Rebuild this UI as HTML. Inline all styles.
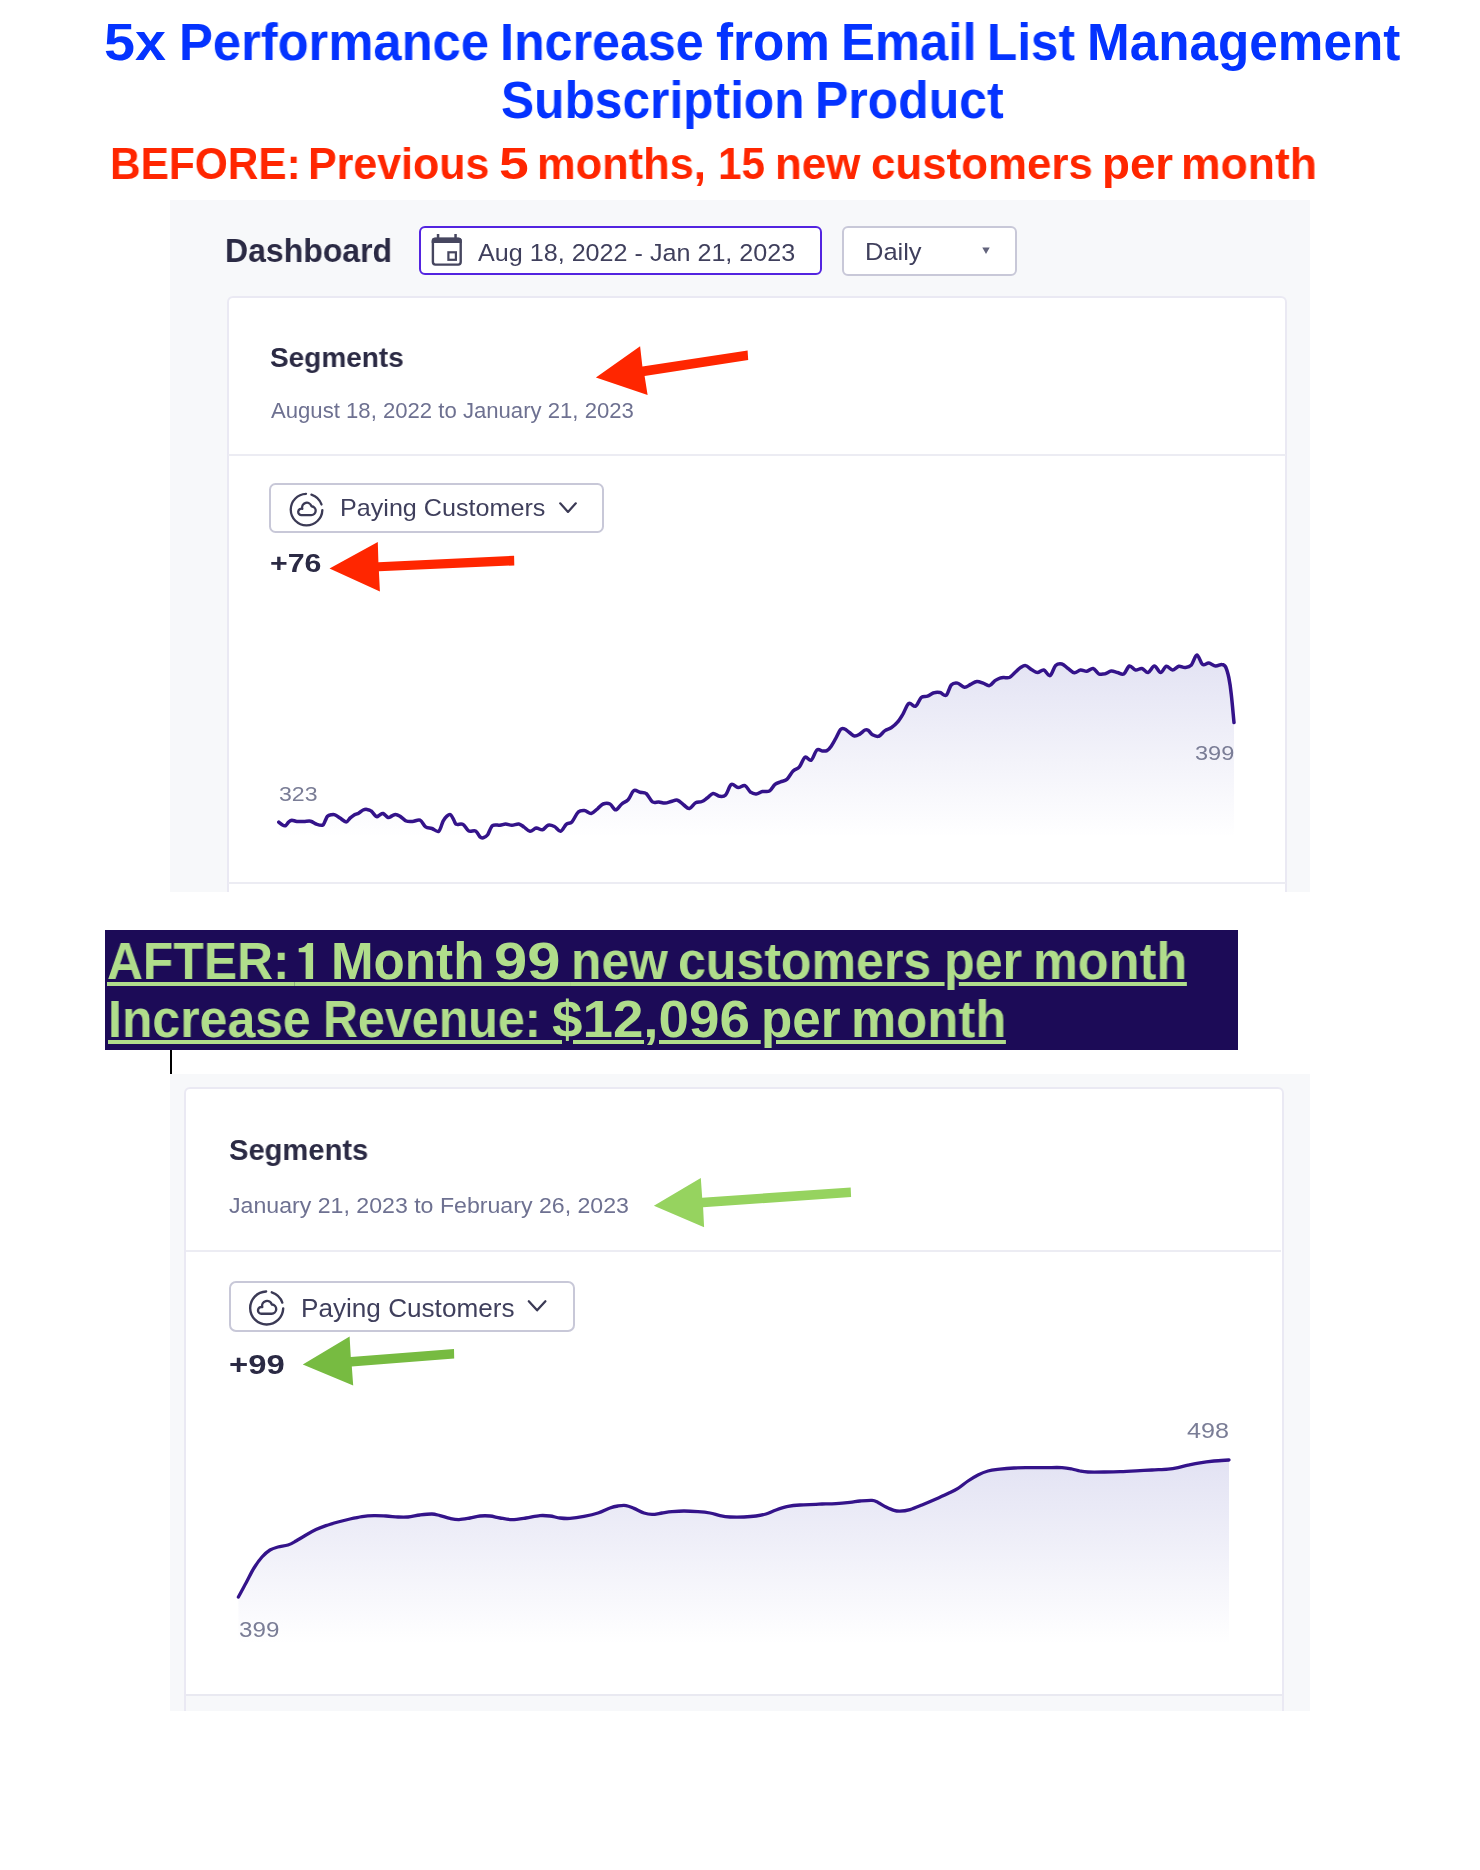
<!DOCTYPE html>
<html><head><meta charset="utf-8"><title>Case study</title>
<style>
html,body{margin:0;padding:0;background:#fff;}
body{width:1480px;height:1870px;position:relative;overflow:hidden;font-family:"Liberation Sans",sans-serif;}
.abs{position:absolute;white-space:nowrap;line-height:1;transform-origin:0 0;will-change:transform;}
.box{position:absolute;box-sizing:border-box;}
svg{position:absolute;left:0;top:0;}
</style></head><body>

<div class="box" style="left:170px;top:200px;width:1140px;height:692px;background:#f7f8fa;"></div>
<div class="box" style="left:227px;top:296.3px;width:1060px;height:595.7px;overflow:hidden;"><div class="box" style="left:0;top:0;width:1060px;height:700px;background:#fff;border:2px solid #eae9f3;border-radius:6px;"></div></div>
<div class="box" style="left:228px;top:454px;width:1058px;height:2px;background:#ececf3;"></div>
<div class="box" style="left:228px;top:881.5px;width:1058px;height:2px;background:#ececf3;"></div>
<div class="box" style="left:419px;top:226px;width:403px;height:49px;background:#fff;border:2px solid #5324e0;border-radius:6px;"></div>
<div class="box" style="left:842px;top:226px;width:175px;height:49.5px;background:#fff;border:2px solid #c8c8d8;border-radius:6px;"></div>
<div class="box" style="left:269px;top:483px;width:335px;height:49.5px;background:#fff;border:2px solid #c8c8d8;border-radius:6.5px;"></div>
<div class="box" style="left:105px;top:930px;width:1133px;height:119.5px;background:#1c0b57;"></div>
<div class="box" style="left:170.2px;top:1049.5px;width:1.8px;height:24.4px;background:#000;"></div>
<div class="box" style="left:170px;top:1074px;width:1140px;height:636.5px;background:#f7f8fa;"></div>
<div class="box" style="left:184px;top:1087px;width:1100px;height:623.5px;overflow:hidden;"><div class="box" style="left:0;top:0;width:1100px;height:700px;background:#fff;border:2px solid #eae9f3;border-radius:6px;"></div><div class="box" style="left:2px;top:606.5px;width:1096px;height:2px;background:#e9e9f1;"></div><div class="box" style="left:2px;top:608.5px;width:1096px;height:20px;background:#f7f8fa;"></div></div>
<div class="box" style="left:186px;top:1249.5px;width:1095px;height:2px;background:#ececf3;"></div>
<div class="box" style="left:229px;top:1281px;width:346px;height:51px;background:#fff;border:2px solid #c8c8d8;border-radius:7px;"></div>
<svg width="1480" height="1870" viewBox="0 0 1480 1870"><defs><linearGradient id="g1" gradientUnits="userSpaceOnUse" x1="0" y1="655" x2="0" y2="838"><stop offset="0" stop-color="#3232aa" stop-opacity="0.14"/><stop offset="1" stop-color="#3232aa" stop-opacity="0"/></linearGradient><linearGradient id="g2" gradientUnits="userSpaceOnUse" x1="0" y1="1460" x2="0" y2="1645"><stop offset="0" stop-color="#3232aa" stop-opacity="0.14"/><stop offset="1" stop-color="#3232aa" stop-opacity="0"/></linearGradient></defs><path d="M278.8 822.2C279.4 822.7 281.4 824.4 282.5 825.0C283.6 825.6 284.6 826.1 285.6 825.6C286.6 825.1 287.7 822.8 288.8 821.9C289.8 821.0 290.5 820.3 291.9 820.2C293.3 820.2 294.9 821.3 296.9 821.5C298.9 821.7 301.5 821.5 303.8 821.5C306.0 821.5 308.5 820.8 310.6 821.2C312.7 821.7 314.3 823.3 316.2 824.0C318.2 824.7 321.0 825.7 322.5 825.2C324.0 824.8 324.2 822.8 325.0 821.2C325.8 819.8 326.5 817.3 327.5 816.2C328.5 815.2 330.0 815.0 331.2 814.8C332.5 814.5 333.5 814.2 335.0 814.8C336.5 815.3 338.1 816.9 340.0 818.1C341.9 819.3 344.6 821.9 346.2 821.9C347.9 821.9 348.8 819.2 350.0 818.1C351.2 817.0 352.3 816.1 353.8 815.2C355.2 814.4 357.2 814.0 358.8 813.1C360.3 812.2 361.7 810.6 363.1 810.0C364.5 809.4 365.5 809.2 366.9 809.4C368.3 809.6 369.7 809.8 371.2 811.0C372.8 812.2 374.9 815.8 376.2 816.5C377.6 817.2 378.3 815.8 379.4 815.2C380.5 814.8 381.7 813.1 383.1 813.5C384.6 813.9 386.6 817.1 388.1 817.5C389.6 817.9 390.6 816.5 391.9 816.0C393.1 815.5 394.2 814.4 395.6 814.4C397.0 814.4 398.2 815.1 400.0 816.2C401.8 817.4 404.2 820.1 406.2 821.0C408.3 821.9 410.2 821.6 412.5 821.5C414.8 821.4 417.8 819.4 420.0 820.2C422.2 821.1 423.6 825.5 425.6 826.9C427.6 828.3 429.7 827.8 431.9 828.5C434.1 829.2 436.9 832.5 438.8 831.2C440.6 830.0 441.7 823.8 443.1 821.2C444.5 818.8 445.6 817.3 446.9 816.2C448.1 815.2 449.5 814.1 450.6 814.8C451.7 815.4 452.9 818.5 453.8 820.0C454.6 821.5 455.0 823.0 455.6 823.8C456.2 824.5 456.2 824.3 457.5 824.4C458.8 824.5 461.2 823.3 463.1 824.4C465.0 825.5 466.7 829.9 468.8 831.0C470.8 832.1 473.7 830.0 475.6 831.0C477.5 832.0 478.8 835.8 480.0 836.9C481.2 838.0 481.9 838.1 483.1 837.8C484.4 837.4 485.9 837.0 487.5 835.0C489.1 833.0 490.4 827.2 492.5 825.6C494.6 824.0 497.8 825.5 500.0 825.2C502.2 825.0 503.6 824.0 505.6 824.0C507.6 824.0 509.7 825.2 511.9 825.2C514.1 825.2 516.8 823.7 518.8 824.0C520.7 824.3 521.9 825.7 523.8 826.9C525.6 828.1 527.9 831.0 530.0 831.2C532.1 831.5 534.2 828.4 536.2 828.1C538.3 827.9 540.5 830.2 542.5 829.8C544.5 829.3 546.1 825.8 548.1 825.2C550.1 824.7 552.3 825.5 554.4 826.5C556.5 827.5 558.6 831.6 560.6 831.2C562.6 830.9 564.4 826.0 566.2 824.4C568.1 822.8 569.9 823.9 571.9 821.9C573.9 819.9 576.0 814.1 578.1 812.2C580.2 810.4 582.2 810.4 584.4 810.6C586.6 810.8 589.1 813.8 591.2 813.5C593.4 813.2 595.5 810.3 597.5 808.8C599.5 807.2 601.0 804.8 603.1 804.0C605.2 803.2 607.9 803.0 610.0 804.0C612.1 805.0 613.6 809.8 615.6 809.8C617.6 809.7 619.8 805.4 621.9 803.8C624.0 802.1 626.1 801.9 628.1 799.8C630.1 797.6 631.8 791.9 633.8 790.6C635.7 789.4 637.9 791.8 640.0 792.2C642.1 792.7 644.2 791.9 646.2 793.5C648.3 795.1 650.4 800.5 652.5 801.9C654.6 803.3 656.7 801.7 658.8 801.9C660.8 802.1 662.9 803.2 665.0 803.1C667.1 803.0 669.2 802.0 671.2 801.5C673.3 801.0 675.4 799.7 677.5 800.2C679.6 800.8 681.8 803.6 683.8 805.0C685.7 806.4 687.4 808.9 689.4 808.5C691.4 808.1 693.5 803.9 695.6 802.8C697.7 801.6 699.9 802.3 701.9 801.5C703.9 800.7 705.6 799.1 707.5 797.8C709.4 796.4 711.1 793.8 713.1 793.5C715.1 793.2 717.3 796.0 719.4 796.2C721.5 796.5 723.6 797.0 725.6 795.0C727.6 793.0 729.2 785.6 731.2 784.4C733.3 783.1 735.8 787.3 738.1 787.5C740.4 787.7 742.9 784.8 745.0 785.6C747.1 786.4 748.7 790.9 750.6 792.2C752.5 793.6 754.3 794.1 756.2 794.0C758.2 793.9 760.3 792.0 762.5 791.5C764.7 791.0 767.3 792.2 769.4 791.0C771.5 789.8 773.1 785.9 775.0 784.4C776.9 782.9 778.6 782.7 780.6 781.9C782.6 781.1 784.8 781.2 786.9 779.4C789.0 777.6 791.0 773.1 793.1 771.0C795.2 768.9 797.4 769.2 799.4 766.9C801.4 764.6 803.0 758.4 805.0 757.2C807.0 756.1 809.3 761.5 811.2 760.2C813.2 759.0 815.0 751.5 816.9 750.0C818.8 748.5 820.8 750.9 822.5 751.0C824.2 751.1 825.4 751.4 826.9 750.6C828.4 749.8 829.7 748.4 831.2 746.2C832.8 744.1 834.7 740.3 836.2 737.5C837.8 734.7 839.2 730.9 840.6 729.4C842.0 727.9 842.9 728.2 844.4 728.8C845.9 729.3 847.7 731.3 849.4 732.5C851.1 733.7 852.7 735.7 854.4 736.0C856.1 736.3 857.6 735.4 859.4 734.4C861.2 733.4 863.5 730.7 865.0 730.0C866.5 729.3 866.9 729.5 868.1 730.2C869.4 731.0 870.7 733.8 872.5 734.8C874.3 735.8 876.7 736.9 878.8 736.2C880.8 735.6 882.9 732.0 885.0 730.6C887.1 729.2 889.2 729.1 891.2 727.8C893.3 726.4 895.5 724.6 897.5 722.2C899.5 719.9 901.2 716.9 903.1 713.8C905.0 710.6 906.7 704.8 908.8 703.5C910.8 702.2 913.5 707.2 915.6 706.2C917.7 705.2 919.3 699.2 921.2 697.5C923.2 695.8 925.4 697.0 927.5 696.2C929.6 695.5 931.7 693.4 933.8 692.8C935.8 692.1 937.9 692.1 940.0 692.5C942.1 692.9 944.4 696.5 946.2 695.2C948.1 694.0 949.4 687.0 951.2 685.0C953.1 683.0 955.3 682.7 957.5 683.1C959.7 683.5 962.2 687.0 964.4 687.2C966.6 687.5 968.5 685.4 970.6 684.4C972.7 683.4 974.8 681.7 976.9 681.5C979.0 681.3 981.0 682.4 983.1 683.1C985.2 683.8 987.4 686.0 989.4 685.6C991.4 685.2 993.2 681.9 995.0 680.6C996.8 679.4 998.5 678.6 1000.0 678.1C1001.5 677.6 1002.2 677.6 1003.8 677.5C1005.3 677.4 1007.5 678.3 1009.4 677.5C1011.3 676.7 1013.1 674.2 1015.0 672.5C1016.9 670.8 1018.8 668.6 1020.6 667.5C1022.4 666.4 1023.7 665.2 1025.6 665.6C1027.5 666.0 1029.9 668.6 1031.9 669.8C1033.9 670.9 1035.5 672.5 1037.5 672.5C1039.5 672.5 1041.7 669.5 1043.8 670.0C1045.8 670.5 1048.0 676.3 1050.0 675.6C1052.0 674.9 1053.6 667.5 1055.6 665.6C1057.6 663.7 1059.8 663.5 1061.9 664.0C1064.0 664.5 1066.0 667.0 1068.1 668.5C1070.2 670.0 1072.3 672.5 1074.4 672.8C1076.5 673.0 1078.5 670.2 1080.6 670.0C1082.7 669.8 1084.8 671.5 1086.9 671.2C1089.0 671.0 1091.1 668.1 1093.1 668.5C1095.1 668.9 1096.8 672.9 1098.8 673.8C1100.7 674.6 1102.9 674.2 1105.0 673.8C1107.1 673.3 1109.2 671.2 1111.2 671.0C1113.3 670.8 1115.4 672.0 1117.5 672.5C1119.6 673.0 1121.8 675.1 1123.8 674.0C1125.7 672.9 1127.4 666.7 1129.4 666.0C1131.4 665.3 1133.5 669.6 1135.6 670.0C1137.7 670.4 1139.8 668.1 1141.9 668.5C1144.0 668.9 1146.0 672.9 1148.1 672.5C1150.2 672.1 1152.3 666.0 1154.4 666.0C1156.5 666.0 1158.6 672.5 1160.6 672.5C1162.6 672.5 1164.3 666.7 1166.2 666.2C1168.2 665.8 1170.4 670.0 1172.5 670.0C1174.6 670.0 1176.7 666.7 1178.8 666.2C1180.8 665.8 1182.9 667.7 1185.0 667.5C1187.1 667.3 1189.3 667.3 1191.2 665.2C1193.2 663.2 1195.0 655.1 1196.9 655.0C1198.8 654.9 1200.5 663.0 1202.5 664.4C1204.5 665.8 1206.6 662.8 1208.8 663.1C1210.9 663.4 1213.4 665.8 1215.6 666.0C1217.8 666.2 1220.2 664.2 1221.9 664.4C1223.6 664.5 1224.5 664.7 1225.6 666.9C1226.7 669.1 1227.8 673.0 1228.8 677.5C1229.7 682.0 1230.4 686.2 1231.2 693.8C1232.1 701.2 1233.5 717.7 1234.0 722.5L1234 838L278.8 838Z" fill="url(#g1)"/><path d="M278.8 822.2C279.4 822.7 281.4 824.4 282.5 825.0C283.6 825.6 284.6 826.1 285.6 825.6C286.6 825.1 287.7 822.8 288.8 821.9C289.8 821.0 290.5 820.3 291.9 820.2C293.3 820.2 294.9 821.3 296.9 821.5C298.9 821.7 301.5 821.5 303.8 821.5C306.0 821.5 308.5 820.8 310.6 821.2C312.7 821.7 314.3 823.3 316.2 824.0C318.2 824.7 321.0 825.7 322.5 825.2C324.0 824.8 324.2 822.8 325.0 821.2C325.8 819.8 326.5 817.3 327.5 816.2C328.5 815.2 330.0 815.0 331.2 814.8C332.5 814.5 333.5 814.2 335.0 814.8C336.5 815.3 338.1 816.9 340.0 818.1C341.9 819.3 344.6 821.9 346.2 821.9C347.9 821.9 348.8 819.2 350.0 818.1C351.2 817.0 352.3 816.1 353.8 815.2C355.2 814.4 357.2 814.0 358.8 813.1C360.3 812.2 361.7 810.6 363.1 810.0C364.5 809.4 365.5 809.2 366.9 809.4C368.3 809.6 369.7 809.8 371.2 811.0C372.8 812.2 374.9 815.8 376.2 816.5C377.6 817.2 378.3 815.8 379.4 815.2C380.5 814.8 381.7 813.1 383.1 813.5C384.6 813.9 386.6 817.1 388.1 817.5C389.6 817.9 390.6 816.5 391.9 816.0C393.1 815.5 394.2 814.4 395.6 814.4C397.0 814.4 398.2 815.1 400.0 816.2C401.8 817.4 404.2 820.1 406.2 821.0C408.3 821.9 410.2 821.6 412.5 821.5C414.8 821.4 417.8 819.4 420.0 820.2C422.2 821.1 423.6 825.5 425.6 826.9C427.6 828.3 429.7 827.8 431.9 828.5C434.1 829.2 436.9 832.5 438.8 831.2C440.6 830.0 441.7 823.8 443.1 821.2C444.5 818.8 445.6 817.3 446.9 816.2C448.1 815.2 449.5 814.1 450.6 814.8C451.7 815.4 452.9 818.5 453.8 820.0C454.6 821.5 455.0 823.0 455.6 823.8C456.2 824.5 456.2 824.3 457.5 824.4C458.8 824.5 461.2 823.3 463.1 824.4C465.0 825.5 466.7 829.9 468.8 831.0C470.8 832.1 473.7 830.0 475.6 831.0C477.5 832.0 478.8 835.8 480.0 836.9C481.2 838.0 481.9 838.1 483.1 837.8C484.4 837.4 485.9 837.0 487.5 835.0C489.1 833.0 490.4 827.2 492.5 825.6C494.6 824.0 497.8 825.5 500.0 825.2C502.2 825.0 503.6 824.0 505.6 824.0C507.6 824.0 509.7 825.2 511.9 825.2C514.1 825.2 516.8 823.7 518.8 824.0C520.7 824.3 521.9 825.7 523.8 826.9C525.6 828.1 527.9 831.0 530.0 831.2C532.1 831.5 534.2 828.4 536.2 828.1C538.3 827.9 540.5 830.2 542.5 829.8C544.5 829.3 546.1 825.8 548.1 825.2C550.1 824.7 552.3 825.5 554.4 826.5C556.5 827.5 558.6 831.6 560.6 831.2C562.6 830.9 564.4 826.0 566.2 824.4C568.1 822.8 569.9 823.9 571.9 821.9C573.9 819.9 576.0 814.1 578.1 812.2C580.2 810.4 582.2 810.4 584.4 810.6C586.6 810.8 589.1 813.8 591.2 813.5C593.4 813.2 595.5 810.3 597.5 808.8C599.5 807.2 601.0 804.8 603.1 804.0C605.2 803.2 607.9 803.0 610.0 804.0C612.1 805.0 613.6 809.8 615.6 809.8C617.6 809.7 619.8 805.4 621.9 803.8C624.0 802.1 626.1 801.9 628.1 799.8C630.1 797.6 631.8 791.9 633.8 790.6C635.7 789.4 637.9 791.8 640.0 792.2C642.1 792.7 644.2 791.9 646.2 793.5C648.3 795.1 650.4 800.5 652.5 801.9C654.6 803.3 656.7 801.7 658.8 801.9C660.8 802.1 662.9 803.2 665.0 803.1C667.1 803.0 669.2 802.0 671.2 801.5C673.3 801.0 675.4 799.7 677.5 800.2C679.6 800.8 681.8 803.6 683.8 805.0C685.7 806.4 687.4 808.9 689.4 808.5C691.4 808.1 693.5 803.9 695.6 802.8C697.7 801.6 699.9 802.3 701.9 801.5C703.9 800.7 705.6 799.1 707.5 797.8C709.4 796.4 711.1 793.8 713.1 793.5C715.1 793.2 717.3 796.0 719.4 796.2C721.5 796.5 723.6 797.0 725.6 795.0C727.6 793.0 729.2 785.6 731.2 784.4C733.3 783.1 735.8 787.3 738.1 787.5C740.4 787.7 742.9 784.8 745.0 785.6C747.1 786.4 748.7 790.9 750.6 792.2C752.5 793.6 754.3 794.1 756.2 794.0C758.2 793.9 760.3 792.0 762.5 791.5C764.7 791.0 767.3 792.2 769.4 791.0C771.5 789.8 773.1 785.9 775.0 784.4C776.9 782.9 778.6 782.7 780.6 781.9C782.6 781.1 784.8 781.2 786.9 779.4C789.0 777.6 791.0 773.1 793.1 771.0C795.2 768.9 797.4 769.2 799.4 766.9C801.4 764.6 803.0 758.4 805.0 757.2C807.0 756.1 809.3 761.5 811.2 760.2C813.2 759.0 815.0 751.5 816.9 750.0C818.8 748.5 820.8 750.9 822.5 751.0C824.2 751.1 825.4 751.4 826.9 750.6C828.4 749.8 829.7 748.4 831.2 746.2C832.8 744.1 834.7 740.3 836.2 737.5C837.8 734.7 839.2 730.9 840.6 729.4C842.0 727.9 842.9 728.2 844.4 728.8C845.9 729.3 847.7 731.3 849.4 732.5C851.1 733.7 852.7 735.7 854.4 736.0C856.1 736.3 857.6 735.4 859.4 734.4C861.2 733.4 863.5 730.7 865.0 730.0C866.5 729.3 866.9 729.5 868.1 730.2C869.4 731.0 870.7 733.8 872.5 734.8C874.3 735.8 876.7 736.9 878.8 736.2C880.8 735.6 882.9 732.0 885.0 730.6C887.1 729.2 889.2 729.1 891.2 727.8C893.3 726.4 895.5 724.6 897.5 722.2C899.5 719.9 901.2 716.9 903.1 713.8C905.0 710.6 906.7 704.8 908.8 703.5C910.8 702.2 913.5 707.2 915.6 706.2C917.7 705.2 919.3 699.2 921.2 697.5C923.2 695.8 925.4 697.0 927.5 696.2C929.6 695.5 931.7 693.4 933.8 692.8C935.8 692.1 937.9 692.1 940.0 692.5C942.1 692.9 944.4 696.5 946.2 695.2C948.1 694.0 949.4 687.0 951.2 685.0C953.1 683.0 955.3 682.7 957.5 683.1C959.7 683.5 962.2 687.0 964.4 687.2C966.6 687.5 968.5 685.4 970.6 684.4C972.7 683.4 974.8 681.7 976.9 681.5C979.0 681.3 981.0 682.4 983.1 683.1C985.2 683.8 987.4 686.0 989.4 685.6C991.4 685.2 993.2 681.9 995.0 680.6C996.8 679.4 998.5 678.6 1000.0 678.1C1001.5 677.6 1002.2 677.6 1003.8 677.5C1005.3 677.4 1007.5 678.3 1009.4 677.5C1011.3 676.7 1013.1 674.2 1015.0 672.5C1016.9 670.8 1018.8 668.6 1020.6 667.5C1022.4 666.4 1023.7 665.2 1025.6 665.6C1027.5 666.0 1029.9 668.6 1031.9 669.8C1033.9 670.9 1035.5 672.5 1037.5 672.5C1039.5 672.5 1041.7 669.5 1043.8 670.0C1045.8 670.5 1048.0 676.3 1050.0 675.6C1052.0 674.9 1053.6 667.5 1055.6 665.6C1057.6 663.7 1059.8 663.5 1061.9 664.0C1064.0 664.5 1066.0 667.0 1068.1 668.5C1070.2 670.0 1072.3 672.5 1074.4 672.8C1076.5 673.0 1078.5 670.2 1080.6 670.0C1082.7 669.8 1084.8 671.5 1086.9 671.2C1089.0 671.0 1091.1 668.1 1093.1 668.5C1095.1 668.9 1096.8 672.9 1098.8 673.8C1100.7 674.6 1102.9 674.2 1105.0 673.8C1107.1 673.3 1109.2 671.2 1111.2 671.0C1113.3 670.8 1115.4 672.0 1117.5 672.5C1119.6 673.0 1121.8 675.1 1123.8 674.0C1125.7 672.9 1127.4 666.7 1129.4 666.0C1131.4 665.3 1133.5 669.6 1135.6 670.0C1137.7 670.4 1139.8 668.1 1141.9 668.5C1144.0 668.9 1146.0 672.9 1148.1 672.5C1150.2 672.1 1152.3 666.0 1154.4 666.0C1156.5 666.0 1158.6 672.5 1160.6 672.5C1162.6 672.5 1164.3 666.7 1166.2 666.2C1168.2 665.8 1170.4 670.0 1172.5 670.0C1174.6 670.0 1176.7 666.7 1178.8 666.2C1180.8 665.8 1182.9 667.7 1185.0 667.5C1187.1 667.3 1189.3 667.3 1191.2 665.2C1193.2 663.2 1195.0 655.1 1196.9 655.0C1198.8 654.9 1200.5 663.0 1202.5 664.4C1204.5 665.8 1206.6 662.8 1208.8 663.1C1210.9 663.4 1213.4 665.8 1215.6 666.0C1217.8 666.2 1220.2 664.2 1221.9 664.4C1223.6 664.5 1224.5 664.7 1225.6 666.9C1226.7 669.1 1227.8 673.0 1228.8 677.5C1229.7 682.0 1230.4 686.2 1231.2 693.8C1232.1 701.2 1233.5 717.7 1234.0 722.5" fill="none" stroke="#34138a" stroke-width="3.5" stroke-linecap="round" stroke-linejoin="round"/><path d="M238.4 1597.0C239.7 1594.7 243.4 1587.8 246.0 1583.0C248.6 1578.2 251.3 1572.3 254.0 1568.0C256.7 1563.7 259.3 1560.0 262.0 1557.0C264.7 1554.0 267.3 1551.7 270.0 1550.0C272.7 1548.3 275.0 1547.8 278.0 1547.0C281.0 1546.2 285.0 1546.0 288.0 1545.0C291.0 1544.0 293.0 1542.7 296.0 1541.0C299.0 1539.3 302.7 1536.9 306.0 1535.0C309.3 1533.1 312.7 1531.2 316.0 1529.6C319.3 1528.0 322.3 1526.9 326.0 1525.6C329.7 1524.3 334.0 1523.1 338.0 1522.0C342.0 1520.9 346.0 1519.9 350.0 1519.0C354.0 1518.1 358.0 1517.2 362.0 1516.6C366.0 1516.0 370.0 1515.7 374.0 1515.6C378.0 1515.5 382.0 1515.8 386.0 1516.0C390.0 1516.2 394.3 1516.8 398.0 1517.0C401.7 1517.2 404.3 1517.3 408.0 1517.0C411.7 1516.7 416.0 1515.5 420.0 1515.0C424.0 1514.5 428.7 1513.9 432.0 1514.0C435.3 1514.1 437.0 1514.9 440.0 1515.6C443.0 1516.3 446.8 1517.7 450.0 1518.4C453.2 1519.1 455.7 1519.7 459.0 1519.6C462.3 1519.5 466.5 1518.6 470.0 1518.0C473.5 1517.4 476.7 1516.3 480.0 1516.0C483.3 1515.7 486.7 1515.7 490.0 1516.0C493.3 1516.3 496.3 1517.4 500.0 1518.0C503.7 1518.6 507.7 1519.6 512.0 1519.6C516.3 1519.6 521.3 1518.7 526.0 1518.0C530.7 1517.3 536.0 1515.9 540.0 1515.6C544.0 1515.3 546.7 1515.6 550.0 1516.0C553.3 1516.4 556.7 1517.6 560.0 1518.0C563.3 1518.4 566.0 1518.7 570.0 1518.4C574.0 1518.1 579.3 1517.3 584.0 1516.4C588.7 1515.5 593.7 1514.4 598.0 1513.0C602.3 1511.6 606.7 1509.2 610.0 1508.0C613.3 1506.8 615.3 1506.4 618.0 1506.0C620.7 1505.6 623.3 1505.2 626.0 1505.6C628.7 1506.0 631.0 1507.2 634.0 1508.4C637.0 1509.6 641.0 1512.0 644.0 1513.0C647.0 1514.0 649.0 1514.4 652.0 1514.4C655.0 1514.4 658.7 1513.5 662.0 1513.0C665.3 1512.5 668.3 1511.9 672.0 1511.6C675.7 1511.3 679.7 1511.0 684.0 1511.0C688.3 1511.0 693.7 1511.3 698.0 1511.6C702.3 1511.9 706.3 1512.3 710.0 1513.0C713.7 1513.7 716.7 1514.9 720.0 1515.6C723.3 1516.3 726.0 1516.8 730.0 1517.0C734.0 1517.2 739.7 1517.2 744.0 1517.0C748.3 1516.8 752.3 1516.5 756.0 1516.0C759.7 1515.5 762.7 1515.0 766.0 1514.0C769.3 1513.0 772.3 1511.3 776.0 1510.0C779.7 1508.7 784.0 1507.2 788.0 1506.4C792.0 1505.6 795.3 1505.3 800.0 1505.0C804.7 1504.7 812.3 1504.6 816.0 1504.4C819.7 1504.2 818.7 1504.1 822.0 1504.0C825.3 1503.9 831.3 1503.9 836.0 1503.6C840.7 1503.3 846.0 1502.8 850.0 1502.4C854.0 1502.0 856.3 1501.3 860.0 1501.0C863.7 1500.7 869.0 1500.2 872.0 1500.4C875.0 1500.6 875.7 1501.3 878.0 1502.4C880.3 1503.5 883.3 1505.7 886.0 1507.0C888.7 1508.3 891.7 1509.7 894.0 1510.4C896.3 1511.1 897.3 1511.3 900.0 1511.2C902.7 1511.1 906.3 1510.6 910.0 1509.6C913.7 1508.6 917.7 1506.8 922.0 1505.0C926.3 1503.2 931.7 1500.9 936.0 1499.0C940.3 1497.1 944.3 1495.4 948.0 1493.6C951.7 1491.8 954.7 1490.5 958.0 1488.4C961.3 1486.3 964.7 1483.2 968.0 1481.0C971.3 1478.8 974.7 1476.7 978.0 1475.0C981.3 1473.3 984.3 1472.0 988.0 1471.0C991.7 1470.0 995.7 1469.7 1000.0 1469.2C1004.3 1468.7 1009.0 1468.3 1014.0 1468.0C1019.0 1467.7 1024.7 1467.7 1030.0 1467.6C1035.3 1467.5 1040.7 1467.6 1046.0 1467.6C1051.3 1467.6 1057.7 1467.4 1062.0 1467.6C1066.3 1467.8 1069.0 1468.4 1072.0 1469.0C1075.0 1469.6 1077.3 1470.5 1080.0 1471.0C1082.7 1471.5 1084.0 1471.8 1088.0 1472.0C1092.0 1472.2 1098.7 1472.1 1104.0 1472.0C1109.3 1471.9 1114.7 1471.8 1120.0 1471.6C1125.3 1471.4 1130.7 1471.1 1136.0 1470.8C1141.3 1470.5 1146.7 1470.3 1152.0 1470.0C1157.3 1469.7 1163.7 1469.6 1168.0 1469.2C1172.3 1468.8 1174.7 1468.3 1178.0 1467.6C1181.3 1466.9 1184.3 1466.0 1188.0 1465.2C1191.7 1464.4 1195.7 1463.5 1200.0 1462.8C1204.3 1462.1 1209.2 1461.5 1214.0 1461.0C1218.8 1460.5 1226.5 1460.2 1229.0 1460.0L1229 1645L238.4 1645Z" fill="url(#g2)"/><path d="M238.4 1597.0C239.7 1594.7 243.4 1587.8 246.0 1583.0C248.6 1578.2 251.3 1572.3 254.0 1568.0C256.7 1563.7 259.3 1560.0 262.0 1557.0C264.7 1554.0 267.3 1551.7 270.0 1550.0C272.7 1548.3 275.0 1547.8 278.0 1547.0C281.0 1546.2 285.0 1546.0 288.0 1545.0C291.0 1544.0 293.0 1542.7 296.0 1541.0C299.0 1539.3 302.7 1536.9 306.0 1535.0C309.3 1533.1 312.7 1531.2 316.0 1529.6C319.3 1528.0 322.3 1526.9 326.0 1525.6C329.7 1524.3 334.0 1523.1 338.0 1522.0C342.0 1520.9 346.0 1519.9 350.0 1519.0C354.0 1518.1 358.0 1517.2 362.0 1516.6C366.0 1516.0 370.0 1515.7 374.0 1515.6C378.0 1515.5 382.0 1515.8 386.0 1516.0C390.0 1516.2 394.3 1516.8 398.0 1517.0C401.7 1517.2 404.3 1517.3 408.0 1517.0C411.7 1516.7 416.0 1515.5 420.0 1515.0C424.0 1514.5 428.7 1513.9 432.0 1514.0C435.3 1514.1 437.0 1514.9 440.0 1515.6C443.0 1516.3 446.8 1517.7 450.0 1518.4C453.2 1519.1 455.7 1519.7 459.0 1519.6C462.3 1519.5 466.5 1518.6 470.0 1518.0C473.5 1517.4 476.7 1516.3 480.0 1516.0C483.3 1515.7 486.7 1515.7 490.0 1516.0C493.3 1516.3 496.3 1517.4 500.0 1518.0C503.7 1518.6 507.7 1519.6 512.0 1519.6C516.3 1519.6 521.3 1518.7 526.0 1518.0C530.7 1517.3 536.0 1515.9 540.0 1515.6C544.0 1515.3 546.7 1515.6 550.0 1516.0C553.3 1516.4 556.7 1517.6 560.0 1518.0C563.3 1518.4 566.0 1518.7 570.0 1518.4C574.0 1518.1 579.3 1517.3 584.0 1516.4C588.7 1515.5 593.7 1514.4 598.0 1513.0C602.3 1511.6 606.7 1509.2 610.0 1508.0C613.3 1506.8 615.3 1506.4 618.0 1506.0C620.7 1505.6 623.3 1505.2 626.0 1505.6C628.7 1506.0 631.0 1507.2 634.0 1508.4C637.0 1509.6 641.0 1512.0 644.0 1513.0C647.0 1514.0 649.0 1514.4 652.0 1514.4C655.0 1514.4 658.7 1513.5 662.0 1513.0C665.3 1512.5 668.3 1511.9 672.0 1511.6C675.7 1511.3 679.7 1511.0 684.0 1511.0C688.3 1511.0 693.7 1511.3 698.0 1511.6C702.3 1511.9 706.3 1512.3 710.0 1513.0C713.7 1513.7 716.7 1514.9 720.0 1515.6C723.3 1516.3 726.0 1516.8 730.0 1517.0C734.0 1517.2 739.7 1517.2 744.0 1517.0C748.3 1516.8 752.3 1516.5 756.0 1516.0C759.7 1515.5 762.7 1515.0 766.0 1514.0C769.3 1513.0 772.3 1511.3 776.0 1510.0C779.7 1508.7 784.0 1507.2 788.0 1506.4C792.0 1505.6 795.3 1505.3 800.0 1505.0C804.7 1504.7 812.3 1504.6 816.0 1504.4C819.7 1504.2 818.7 1504.1 822.0 1504.0C825.3 1503.9 831.3 1503.9 836.0 1503.6C840.7 1503.3 846.0 1502.8 850.0 1502.4C854.0 1502.0 856.3 1501.3 860.0 1501.0C863.7 1500.7 869.0 1500.2 872.0 1500.4C875.0 1500.6 875.7 1501.3 878.0 1502.4C880.3 1503.5 883.3 1505.7 886.0 1507.0C888.7 1508.3 891.7 1509.7 894.0 1510.4C896.3 1511.1 897.3 1511.3 900.0 1511.2C902.7 1511.1 906.3 1510.6 910.0 1509.6C913.7 1508.6 917.7 1506.8 922.0 1505.0C926.3 1503.2 931.7 1500.9 936.0 1499.0C940.3 1497.1 944.3 1495.4 948.0 1493.6C951.7 1491.8 954.7 1490.5 958.0 1488.4C961.3 1486.3 964.7 1483.2 968.0 1481.0C971.3 1478.8 974.7 1476.7 978.0 1475.0C981.3 1473.3 984.3 1472.0 988.0 1471.0C991.7 1470.0 995.7 1469.7 1000.0 1469.2C1004.3 1468.7 1009.0 1468.3 1014.0 1468.0C1019.0 1467.7 1024.7 1467.7 1030.0 1467.6C1035.3 1467.5 1040.7 1467.6 1046.0 1467.6C1051.3 1467.6 1057.7 1467.4 1062.0 1467.6C1066.3 1467.8 1069.0 1468.4 1072.0 1469.0C1075.0 1469.6 1077.3 1470.5 1080.0 1471.0C1082.7 1471.5 1084.0 1471.8 1088.0 1472.0C1092.0 1472.2 1098.7 1472.1 1104.0 1472.0C1109.3 1471.9 1114.7 1471.8 1120.0 1471.6C1125.3 1471.4 1130.7 1471.1 1136.0 1470.8C1141.3 1470.5 1146.7 1470.3 1152.0 1470.0C1157.3 1469.7 1163.7 1469.6 1168.0 1469.2C1172.3 1468.8 1174.7 1468.3 1178.0 1467.6C1181.3 1466.9 1184.3 1466.0 1188.0 1465.2C1191.7 1464.4 1195.7 1463.5 1200.0 1462.8C1204.3 1462.1 1209.2 1461.5 1214.0 1461.0C1218.8 1460.5 1226.5 1460.2 1229.0 1460.0" fill="none" stroke="#34138a" stroke-width="3.3" stroke-linecap="round" stroke-linejoin="round"/><polygon points="595.9,377.6 640.1,346.2 642.4,366.5 747.6,350.5 748.2,360.0 644.6,375.9 647.6,395.1" fill="#ff2600"/><polygon points="329.5,568.5 377.8,541.9 378.4,562.2 514.1,555.7 514.3,565.4 378.9,571.2 379.9,591.5" fill="#ff2600"/><polygon points="653.9,1205.8 700.8,1178.0 702.2,1197.8 850.7,1187.4 851.1,1196.9 703.1,1207.3 704.1,1227.2" fill="#96d35f"/><polygon points="302.8,1364.5 349.6,1336.6 350.8,1356.9 454.0,1349.1 454.2,1358.4 351.8,1366.6 353.2,1385.6" fill="#77bb41"/><path d="M313.1 942.9V979H305.6V952.2H298.7V948.2Q305.2 947.6 307.4 942.9Z" fill="#b0dd8b"/><g fill="none" stroke="#46465f" stroke-width="2.4"><rect x="432.9" y="238.8" width="27.8" height="25.8" rx="2.5"/></g><path d="M431.7 241a3.3 3.3 0 0 1 3.3 -3.3h23.5a3.3 3.3 0 0 1 3.3 3.3v2.1h-30.1z" fill="#46465f"/><rect x="436.8" y="234" width="2.5" height="6" fill="#46465f"/><rect x="454.3" y="234" width="2.5" height="6" fill="#46465f"/><rect x="448.4" y="252.3" width="7.5" height="7.5" fill="none" stroke="#46465f" stroke-width="2.2"/><path d="M982.3 247.6h7.4l-3.7 6.4z" fill="#62637c"/><g transform="translate(306.55 509.60) scale(1.000)" fill="none" stroke="#3b3a55" stroke-width="2.3" stroke-linecap="round" stroke-linejoin="round"><path d="M4.88 -15.03A15.8 15.8 0 0 1 14.94 -5.14"/><path d="M15.79 0.55A15.8 15.8 0 1 1 -0.55 -15.79"/><path d="M-4.82 5.45 H4.54 A4.37 4.37 0 0 0 4.9 -3.33 A4.73 4.73 0 0 0 -4.24 -0.81 A3.2 3.2 0 1 0 -4.82 5.45Z"/></g><g transform="translate(266.70 1308.00) scale(1.045)" fill="none" stroke="#3b3a55" stroke-width="2.3" stroke-linecap="round" stroke-linejoin="round"><path d="M4.88 -15.03A15.8 15.8 0 0 1 14.94 -5.14"/><path d="M15.79 0.55A15.8 15.8 0 1 1 -0.55 -15.79"/><path d="M-4.82 5.45 H4.54 A4.37 4.37 0 0 0 4.9 -3.33 A4.73 4.73 0 0 0 -4.24 -0.81 A3.2 3.2 0 1 0 -4.82 5.45Z"/></g><path d="M560.2 503.3l7.8 8.6l7.8 -8.6" fill="none" stroke="#3b3a55" stroke-width="2.2" stroke-linecap="round" stroke-linejoin="round"/><path d="M528.8 1301.3l8.3 9l8.3 -9" fill="none" stroke="#3b3a55" stroke-width="2.3" stroke-linecap="round" stroke-linejoin="round"/></svg>
<div id="t1_0" class="abs" style="left:104.46px;top:17.20px;font-size:51px;font-weight:bold;color:#0433ff;transform:scaleX(1.0922);white-space:pre;">5x</div>
<div id="t1_1" class="abs" style="left:178.62px;top:17.20px;font-size:51px;font-weight:bold;color:#0433ff;transform:scaleX(0.9941);white-space:pre;">Performance</div>
<div id="t1_2" class="abs" style="left:500.35px;top:17.20px;font-size:51px;font-weight:bold;color:#0433ff;transform:scaleX(0.9844);white-space:pre;">Increase</div>
<div id="t1_3" class="abs" style="left:716.45px;top:17.20px;font-size:51px;font-weight:bold;color:#0433ff;transform:scaleX(1.0055);white-space:pre;">from</div>
<div id="t1_4" class="abs" style="left:840.81px;top:17.20px;font-size:51px;font-weight:bold;color:#0433ff;transform:scaleX(0.9961);white-space:pre;">Email</div>
<div id="t1_5" class="abs" style="left:986.51px;top:17.20px;font-size:51px;font-weight:bold;color:#0433ff;transform:scaleX(0.9699);white-space:pre;">List</div>
<div id="t1_6" class="abs" style="left:1087.08px;top:17.20px;font-size:51px;font-weight:bold;color:#0433ff;transform:scaleX(1.0052);white-space:pre;">Management</div>
<div id="t2_0" class="abs" style="left:501.14px;top:75.19px;font-size:51px;font-weight:bold;color:#0433ff;transform:scaleX(0.9739);white-space:pre;">Subscription</div>
<div id="t2_1" class="abs" style="left:815.37px;top:75.19px;font-size:51px;font-weight:bold;color:#0433ff;transform:scaleX(0.9788);white-space:pre;">Product</div>
<div id="t3_0" class="abs" style="left:109.87px;top:141.45px;font-size:45px;font-weight:bold;color:#ff2600;transform:scaleX(0.9419);white-space:pre;">BEFORE:</div>
<div id="t3_1" class="abs" style="left:307.94px;top:141.45px;font-size:45px;font-weight:bold;color:#ff2600;transform:scaleX(0.9544);white-space:pre;">Previous</div>
<div id="t3_2" class="abs" style="left:498.52px;top:141.45px;font-size:45px;font-weight:bold;color:#ff2600;transform:scaleX(1.1865);white-space:pre;">5</div>
<div id="t3_3" class="abs" style="left:537.00px;top:141.45px;font-size:45px;font-weight:bold;color:#ff2600;transform:scaleX(0.9651);white-space:pre;">months,</div>
<div id="t3_4" class="abs" style="left:717.72px;top:141.45px;font-size:45px;font-weight:bold;color:#ff2600;transform:scaleX(0.9391);white-space:pre;">15</div>
<div id="t3_5" class="abs" style="left:774.77px;top:141.45px;font-size:45px;font-weight:bold;color:#ff2600;transform:scaleX(0.9751);white-space:pre;">new</div>
<div id="t3_6" class="abs" style="left:870.89px;top:141.45px;font-size:45px;font-weight:bold;color:#ff2600;transform:scaleX(0.9750);white-space:pre;">customers</div>
<div id="t3_7" class="abs" style="left:1101.85px;top:141.45px;font-size:45px;font-weight:bold;color:#ff2600;transform:scaleX(1.0158);white-space:pre;">per</div>
<div id="t3_8" class="abs" style="left:1181.43px;top:141.45px;font-size:45px;font-weight:bold;color:#ff2600;transform:scaleX(0.9890);white-space:pre;">month</div>
<div id="a1_0" class="abs" style="left:107.28px;top:935.82px;font-size:51px;font-weight:bold;color:#b0dd8b;transform:scaleX(0.9759);white-space:pre;text-decoration:underline;text-decoration-thickness:3.8px;text-underline-offset:3.3px;text-decoration-skip-ink:auto;word-spacing:-8.48px;">AFTER: </div>
<div id="a1_1" class="abs" style="left:294.60px;top:935.82px;font-size:51px;font-weight:bold;color:#b0dd8b;transform:scaleX(0.8000);white-space:pre;text-decoration:underline;text-decoration-thickness:3.8px;text-underline-offset:3.3px;text-decoration-skip-ink:auto;word-spacing:3.31px;color:transparent;text-decoration-color:#b0dd8b;">1 </div>
<div id="a1_2" class="abs" style="left:330.59px;top:935.82px;font-size:51px;font-weight:bold;color:#b0dd8b;transform:scaleX(1.0031);white-space:pre;text-decoration:underline;text-decoration-thickness:3.8px;text-underline-offset:3.3px;text-decoration-skip-ink:auto;word-spacing:-3.15px;">Month </div>
<div id="a1_3" class="abs" style="left:494.35px;top:935.82px;font-size:51px;font-weight:bold;color:#b0dd8b;transform:scaleX(1.1717);white-space:pre;text-decoration:underline;text-decoration-thickness:3.8px;text-underline-offset:3.3px;text-decoration-skip-ink:auto;word-spacing:-5.21px;">99 </div>
<div id="a1_4" class="abs" style="left:570.63px;top:935.82px;font-size:51px;font-weight:bold;color:#b0dd8b;transform:scaleX(0.9760);white-space:pre;text-decoration:underline;text-decoration-thickness:3.8px;text-underline-offset:3.3px;text-decoration-skip-ink:auto;word-spacing:-2.29px;">new </div>
<div id="a1_5" class="abs" style="left:678.34px;top:935.82px;font-size:51px;font-weight:bold;color:#b0dd8b;transform:scaleX(0.9817);white-space:pre;text-decoration:underline;text-decoration-thickness:3.8px;text-underline-offset:3.3px;text-decoration-skip-ink:auto;word-spacing:-0.58px;">customers </div>
<div id="a1_6" class="abs" style="left:944.20px;top:935.82px;font-size:51px;font-weight:bold;color:#b0dd8b;transform:scaleX(0.9834);white-space:pre;text-decoration:underline;text-decoration-thickness:3.8px;text-underline-offset:3.3px;text-decoration-skip-ink:auto;word-spacing:-2.15px;">per </div>
<div id="a1_7" class="abs" style="left:1033.38px;top:935.82px;font-size:51px;font-weight:bold;color:#b0dd8b;transform:scaleX(0.9893);white-space:pre;text-decoration:underline;text-decoration-thickness:3.8px;text-underline-offset:3.3px;text-decoration-skip-ink:auto;">month</div>
<div id="a2_0" class="abs" style="left:107.67px;top:994.12px;font-size:51px;font-weight:bold;color:#b0dd8b;transform:scaleX(0.9794);white-space:pre;text-decoration:underline;text-decoration-thickness:3.8px;text-underline-offset:3.3px;text-decoration-skip-ink:auto;word-spacing:-0.73px;">Increase </div>
<div id="a2_1" class="abs" style="left:322.88px;top:994.12px;font-size:51px;font-weight:bold;color:#b0dd8b;transform:scaleX(0.9492);white-space:pre;text-decoration:underline;text-decoration-thickness:3.8px;text-underline-offset:3.3px;text-decoration-skip-ink:auto;word-spacing:-1.09px;">Revenue: </div>
<div id="a2_2" class="abs" style="left:552.49px;top:994.12px;font-size:51px;font-weight:bold;color:#b0dd8b;transform:scaleX(1.0735);white-space:pre;text-decoration:underline;text-decoration-thickness:3.8px;text-underline-offset:3.3px;text-decoration-skip-ink:auto;word-spacing:-4.07px;">$12,096 </div>
<div id="a2_3" class="abs" style="left:760.54px;top:994.12px;font-size:51px;font-weight:bold;color:#b0dd8b;transform:scaleX(1.0033);white-space:pre;text-decoration:underline;text-decoration-thickness:3.8px;text-underline-offset:3.3px;text-decoration-skip-ink:auto;word-spacing:-2.43px;">per </div>
<div id="a2_4" class="abs" style="left:851.26px;top:994.12px;font-size:51px;font-weight:bold;color:#b0dd8b;transform:scaleX(0.9967);white-space:pre;text-decoration:underline;text-decoration-thickness:3.8px;text-underline-offset:3.3px;text-decoration-skip-ink:auto;">month</div>
<div id="d1_0" class="abs" style="left:224.85px;top:234.12px;font-size:33.5px;font-weight:bold;color:#2b2a44;transform:scaleX(0.9548);white-space:pre;">Dashboard</div>
<div id="d2_0" class="abs" style="left:478.00px;top:240.50px;font-size:24.5px;font-weight:normal;color:#3f3f5c;transform:scaleX(1.0260);white-space:pre;">Aug 18, 2022 - Jan 21, 2023</div>
<div id="d3_0" class="abs" style="left:865.42px;top:240.46px;font-size:24.5px;font-weight:normal;color:#3f3f5c;transform:scaleX(1.0392);white-space:pre;">Daily</div>
<div id="s1_0" class="abs" style="left:270.26px;top:342.79px;font-size:28.3px;font-weight:bold;color:#2b2a44;transform:scaleX(0.9891);white-space:pre;">Segments</div>
<div id="s2_0" class="abs" style="left:270.80px;top:400.16px;font-size:21.6px;font-weight:normal;color:#6e7191;transform:scaleX(1.0245);white-space:pre;">August 18, 2022 to January 21, 2023</div>
<div id="p1_0" class="abs" style="left:340.11px;top:495.87px;font-size:24px;font-weight:normal;color:#3f3f5c;transform:scaleX(1.0473);white-space:pre;">Paying Customers</div>
<div id="n1_0" class="abs" style="left:269.86px;top:549.81px;font-size:26.6px;font-weight:bold;color:#2b2a44;transform:scaleX(1.1399);white-space:pre;">+76</div>
<div id="l1_0" class="abs" style="left:278.87px;top:783.08px;font-size:21px;font-weight:normal;color:#7a7d96;transform:scaleX(1.1015);white-space:pre;">323</div>
<div id="l2_0" class="abs" style="left:1195.36px;top:741.73px;font-size:21px;font-weight:normal;color:#7a7d96;transform:scaleX(1.1218);white-space:pre;">399</div>
<div id="s3_0" class="abs" style="left:228.61px;top:1134.57px;font-size:29.5px;font-weight:bold;color:#2b2a44;transform:scaleX(0.9881);white-space:pre;">Segments</div>
<div id="s4_0" class="abs" style="left:229.09px;top:1194.80px;font-size:22.5px;font-weight:normal;color:#6e7191;transform:scaleX(1.0281);white-space:pre;">January 21, 2023 to February 26, 2023</div>
<div id="p2_0" class="abs" style="left:301.33px;top:1295.62px;font-size:25.2px;font-weight:normal;color:#3f3f5c;transform:scaleX(1.0374);white-space:pre;">Paying Customers</div>
<div id="n2_0" class="abs" style="left:229.30px;top:1351.19px;font-size:27.3px;font-weight:bold;color:#2b2a44;transform:scaleX(1.2023);white-space:pre;">+99</div>
<div id="l3_0" class="abs" style="left:1187.41px;top:1420.50px;font-size:21.5px;font-weight:normal;color:#7a7d96;transform:scaleX(1.1710);white-space:pre;">498</div>
<div id="l4_0" class="abs" style="left:238.76px;top:1619.50px;font-size:21.5px;font-weight:normal;color:#7a7d96;transform:scaleX(1.1241);white-space:pre;">399</div>
</body></html>
